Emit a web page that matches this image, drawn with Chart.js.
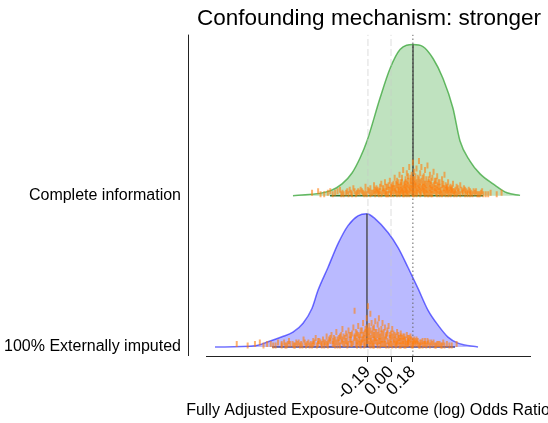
<!DOCTYPE html>
<html>
<head>
<meta charset="utf-8">
<script src="https://cdn.jsdelivr.net/npm/chart.js@4.4.1/dist/chart.umd.min.js"></script>
<style>
  html, body { margin: 0; padding: 0; background: #fff; }
</style>
</head>
<body>
<canvas id="chart" width="548" height="423"></canvas>
<script>
const TITLE = 'Confounding mechanism: stronger';
const X_TITLE = 'Fully Adjusted Exposure-Outcome (log) Odds Ratio';
const groupLabels = ['100% Externally imputed', 'Complete information'];
const xTicks = [-0.19, 0.00, 0.18];

// density outline, heights above each group's baseline
const ciCurveX = [-0.807, -0.502, -0.403, -0.321, -0.255, -0.198, -0.091, -0.008, 0.074, 0.181, 0.263, 0.346, 0.428, 0.510, 0.568, 0.650, 0.733, 0.840, 0.955, 1.062];
const ciCurveY = [0, 0.033, 0.079, 0.151, 0.25, 0.362, 0.645, 0.842, 0.967, 1.0, 0.987, 0.908, 0.776, 0.579, 0.362, 0.230, 0.145, 0.079, 0.02, 0.003];
const eiCurveX = [-1.449, -1.119, -1.012, -0.897, -0.807, -0.724, -0.650, -0.601, -0.519, -0.436, -0.354, -0.272, -0.198, -0.132, -0.025, 0.058, 0.140, 0.222, 0.305, 0.387, 0.469, 0.551, 0.716];
const eiCurveY = [0, 0.009, 0.035, 0.068, 0.099, 0.158, 0.257, 0.375, 0.526, 0.684, 0.803, 0.868, 0.882, 0.849, 0.757, 0.658, 0.526, 0.388, 0.243, 0.145, 0.066, 0.026, 0];

const ciMedian = 0.181;
const eiMedian = -0.198;
const ciPeak = 1.0;
const eiPeak = 0.882;
const ciRange = [-0.502, 0.757];
const eiRange = [-0.979, 0.527];

// estimates (x) with their vertical jitter (h) above the baseline
const ciJitter = [
  [-0.65,0.02],[-0.60,0.03],[-0.55,0.01],[-0.50,0.03],[-0.46,0.02],[-0.42,0.04],[-0.39,0.01],[-0.36,0.03],[-0.33,0.02],[-0.31,0.05],
  [-0.29,0.01],[-0.27,0.03],[-0.25,0.04],[-0.23,0.02],[-0.21,0.06],[-0.20,0.01],[-0.18,0.03],[-0.17,0.05],[-0.15,0.02],[-0.14,0.07],
  [-0.12,0.03],[-0.11,0.04],[-0.10,0.01],[-0.09,0.06],[-0.08,0.08],[-0.07,0.02],[-0.06,0.05],[-0.05,0.09],[-0.04,0.03],[-0.03,0.06],
  [-0.02,0.04],[-0.01,0.10],[0.00,0.02],[0.01,0.07],[0.02,0.05],[0.03,0.12],[0.03,0.03],[0.04,0.08],[0.05,0.01],[0.05,0.10],
  [0.06,0.06],[0.07,0.14],[0.07,0.03],[0.08,0.09],[0.09,0.05],[0.09,0.12],[0.10,0.02],[0.10,0.17],[0.11,0.07],[0.12,0.11],
  [0.12,0.04],[0.13,0.15],[0.13,0.08],[0.14,0.02],[0.14,0.13],[0.15,0.06],[0.15,0.19],[0.16,0.10],[0.16,0.03],[0.17,0.14],
  [0.17,0.07],[0.18,0.22],[0.18,0.11],[0.18,0.04],[0.19,0.16],[0.19,0.08],[0.20,0.13],[0.20,0.02],[0.21,0.18],[0.21,0.09],
  [0.22,0.05],[0.22,0.12],[0.23,0.23],[0.23,0.07],[0.24,0.15],[0.24,0.03],[0.25,0.10],[0.25,0.19],[0.26,0.06],[0.27,0.13],
  [0.27,0.02],[0.28,0.17],[0.28,0.08],[0.29,0.11],[0.30,0.04],[0.30,0.20],[0.31,0.09],[0.32,0.14],[0.32,0.05],[0.33,0.07],
  [0.34,0.12],[0.35,0.03],[0.35,0.16],[0.36,0.08],[0.37,0.10],[0.38,0.04],[0.38,0.13],[0.39,0.06],[0.40,0.09],[0.41,0.02],
  [0.42,0.11],[0.43,0.05],[0.44,0.14],[0.45,0.07],[0.46,0.03],[0.47,0.09],[0.48,0.05],[0.49,0.06],[0.50,0.02],[0.51,0.08],
  [0.53,0.04],[0.54,0.06],[0.56,0.03],[0.57,0.07],[0.59,0.02],[0.60,0.05],[0.62,0.03],[0.64,0.04],[0.66,0.02],[0.68,0.03],
  [0.71,0.01],[0.74,0.02],[0.78,0.01],[0.82,0.02],[0.87,0.01],[0.91,0.02],
  [0.00,0.01],[0.06,0.02],[0.11,0.01],[0.16,0.05],[0.19,0.01],[0.24,0.01],[0.29,0.02],[0.33,0.01],[0.37,0.02],[0.42,0.01],
  [-0.02,0.01],[0.08,0.04],[0.13,0.01],[0.21,0.03],[0.26,0.04],[0.31,0.01],[0.36,0.05],[0.44,0.02],[0.47,0.01],[-0.13,0.01],
  [0.04,0.04],[0.12,0.06],[0.20,0.07],[0.27,0.06],[0.34,0.04],[0.40,0.03],
  [-0.40,0.02],[-0.35,0.01],[-0.30,0.03],[-0.26,0.02],[-0.22,0.01],[-0.19,0.04],[-0.16,0.02],[-0.13,0.04],[-0.11,0.02],[-0.09,0.03],
  [-0.07,0.05],[-0.05,0.02],[-0.04,0.06],[-0.03,0.01],[-0.01,0.04],[0.00,0.06],[0.01,0.03],[0.02,0.08],[0.02,0.01],[0.03,0.05],
  [0.04,0.02],[0.05,0.07],[0.06,0.04],[0.06,0.09],[0.07,0.01],[0.07,0.06],[0.08,0.02],[0.08,0.07],[0.09,0.03],[0.09,0.09],
  [0.10,0.05],[0.10,0.01],[0.11,0.08],[0.11,0.04],[0.12,0.02],[0.12,0.09],[0.13,0.05],[0.13,0.03],[0.14,0.07],[0.14,0.10],
  [0.15,0.01],[0.15,0.04],[0.16,0.08],[0.16,0.12],[0.17,0.02],[0.17,0.05],[0.17,0.10],[0.18,0.07],[0.18,0.01],[0.19,0.04],
  [0.19,0.11],[0.20,0.06],[0.20,0.09],[0.21,0.01],[0.21,0.05],[0.22,0.08],[0.22,0.02],[0.23,0.04],[0.23,0.11],[0.24,0.06],
  [0.24,0.09],[0.25,0.02],[0.25,0.05],[0.26,0.08],[0.26,0.12],[0.27,0.03],[0.27,0.09],[0.28,0.05],[0.28,0.01],[0.29,0.07],
  [0.29,0.04],[0.30,0.08],[0.30,0.01],[0.31,0.05],[0.31,0.11],[0.32,0.02],[0.32,0.08],[0.33,0.04],[0.33,0.10],[0.34,0.06],
  [0.34,0.01],[0.35,0.07],[0.36,0.03],[0.36,0.10],[0.37,0.05],[0.38,0.01],[0.38,0.07],[0.39,0.03],[0.40,0.06],[0.40,0.01],
  [0.41,0.04],[0.42,0.07],[0.43,0.02],[0.44,0.05],[0.45,0.01],[0.45,0.04],[0.46,0.06],[0.48,0.02],[0.49,0.04],[0.50,0.05],
  [0.52,0.01],[0.52,0.03],[0.55,0.02],[0.58,0.04],[0.61,0.01],[0.63,0.02],[0.65,0.01],[0.69,0.02],[0.72,0.01],[0.76,0.01],
  [-0.58,0.01],[-0.52,0.02],[-0.48,0.01],[-0.44,0.03],[-0.41,0.01],[-0.37,0.02],[-0.34,0.04],[-0.32,0.01],[-0.28,0.02],[-0.24,0.03],
  [-0.21,0.02],[-0.17,0.01],[-0.14,0.03],[-0.12,0.05],[-0.10,0.03],[-0.08,0.01],[-0.06,0.03],[-0.04,0.01],[-0.02,0.07],[0.01,0.05],
  [0.47,0.04],[0.49,0.01],[0.51,0.03],[0.53,0.02],[0.55,0.05],[0.57,0.01],[0.59,0.03],[0.61,0.04],[0.63,0.01],[0.65,0.03],
  [0.67,0.01],[0.70,0.03],[0.73,0.01],[0.75,0.03],[0.80,0.01],[0.43,0.08],[0.39,0.09],[0.46,0.05],[0.50,0.04],[0.54,0.01]
];
const eiJitter = [
  [-1.27,0.02],[-1.18,0.01],[-1.08,0.03],[-1.02,0.02],[-0.97,0.01],[-0.93,0.03],[-0.90,0.02],[-0.87,0.01],[-0.84,0.04],[-0.81,0.02],
  [-0.79,0.01],[-0.76,0.03],[-0.74,0.02],[-0.72,0.05],[-0.70,0.01],[-0.68,0.03],[-0.66,0.02],[-0.64,0.04],[-0.62,0.06],[-0.60,0.02],
  [-0.58,0.03],[-0.56,0.05],[-0.55,0.01],[-0.53,0.07],[-0.52,0.03],[-0.50,0.04],[-0.49,0.08],[-0.47,0.02],[-0.46,0.05],[-0.45,0.10],
  [-0.43,0.03],[-0.42,0.07],[-0.41,0.04],[-0.40,0.12],[-0.39,0.02],[-0.38,0.06],[-0.37,0.09],[-0.36,0.03],[-0.35,0.11],[-0.34,0.05],
  [-0.33,0.08],[-0.32,0.02],[-0.31,0.13],[-0.30,0.24],[-0.30,0.06],[-0.29,0.10],[-0.28,0.04],[-0.27,0.14],[-0.26,0.07],[-0.26,0.02],
  [-0.25,0.11],[-0.24,0.05],[-0.23,0.16],[-0.23,0.08],[-0.22,0.03],[-0.21,0.12],[-0.21,0.06],[-0.20,0.19],[-0.20,0.09],[-0.19,0.27],
  [-0.19,0.04],[-0.18,0.14],[-0.18,0.07],[-0.17,0.22],[-0.17,0.11],[-0.16,0.02],[-0.16,0.16],[-0.15,0.08],[-0.14,0.13],[-0.14,0.05],
  [-0.13,0.17],[-0.12,0.10],[-0.12,0.03],[-0.11,0.15],[-0.10,0.07],[-0.10,0.19],[-0.09,0.04],[-0.08,0.12],[-0.08,0.09],[-0.07,0.16],
  [-0.06,0.06],[-0.06,0.02],[-0.05,0.13],[-0.04,0.08],[-0.03,0.11],[-0.03,0.04],[-0.02,0.14],[-0.01,0.06],[0.00,0.09],[0.00,0.02],
  [0.01,0.12],[0.02,0.05],[0.03,0.08],[0.04,0.03],[0.05,0.10],[0.06,0.06],[0.07,0.04],[0.08,0.09],[0.09,0.02],[0.10,0.07],
  [0.11,0.05],[0.12,0.03],[0.13,0.08],[0.14,0.04],[0.15,0.06],[0.16,0.02],[0.17,0.05],[0.19,0.03],[0.20,0.04],[0.22,0.02],
  [0.24,0.03],[0.26,0.01],[0.28,0.04],[0.30,0.02],[0.33,0.03],[0.36,0.01],[0.39,0.02],[0.42,0.01],[0.46,0.02],[0.50,0.01],[0.54,0.02],
  [-0.44,0.01],[-0.36,0.01],[-0.28,0.01],[-0.22,0.01],[-0.15,0.01],[-0.09,0.01],[-0.02,0.01],[0.04,0.01],[0.11,0.01],[0.18,0.01],
  [-0.33,0.02],[-0.25,0.03],[-0.17,0.04],[-0.11,0.03],[-0.05,0.02],[0.02,0.03],[0.08,0.01],[0.14,0.02],[-0.40,0.03],[-0.13,0.06],
  [-0.07,0.05],[0.05,0.04],
  [-0.90,0.01],[-0.85,0.02],[-0.80,0.01],[-0.77,0.02],[-0.73,0.01],[-0.69,0.02],[-0.65,0.01],[-0.63,0.03],[-0.61,0.01],[-0.59,0.04],
  [-0.57,0.02],[-0.54,0.03],[-0.52,0.01],[-0.51,0.05],[-0.48,0.02],[-0.47,0.06],[-0.45,0.03],[-0.44,0.05],[-0.42,0.01],[-0.41,0.08],
  [-0.40,0.05],[-0.39,0.07],[-0.38,0.02],[-0.37,0.04],[-0.36,0.07],[-0.35,0.02],[-0.34,0.08],[-0.33,0.05],[-0.32,0.09],[-0.31,0.03],
  [-0.30,0.07],[-0.29,0.02],[-0.29,0.06],[-0.28,0.09],[-0.27,0.03],[-0.27,0.08],[-0.26,0.05],[-0.25,0.01],[-0.25,0.08],[-0.24,0.03],
  [-0.24,0.11],[-0.23,0.05],[-0.22,0.09],[-0.22,0.06],[-0.21,0.02],[-0.21,0.10],[-0.20,0.04],[-0.20,0.13],[-0.19,0.07],[-0.19,0.11],
  [-0.18,0.02],[-0.18,0.10],[-0.17,0.06],[-0.17,0.01],[-0.16,0.09],[-0.16,0.05],[-0.15,0.12],[-0.15,0.03],[-0.14,0.08],[-0.14,0.01],
  [-0.13,0.04],[-0.13,0.10],[-0.12,0.06],[-0.11,0.01],[-0.11,0.08],[-0.10,0.04],[-0.10,0.11],[-0.09,0.07],[-0.08,0.02],[-0.08,0.05],
  [-0.07,0.09],[-0.07,0.02],[-0.06,0.10],[-0.05,0.05],[-0.04,0.01],[-0.04,0.07],[-0.03,0.09],[-0.02,0.03],[-0.01,0.08],[-0.01,0.02],
  [0.00,0.05],[0.01,0.01],[0.01,0.07],[0.02,0.09],[0.03,0.02],[0.03,0.05],[0.04,0.07],[0.05,0.02],[0.06,0.08],[0.07,0.01],
  [0.07,0.06],[0.08,0.04],[0.09,0.06],[0.10,0.02],[0.11,0.07],[0.12,0.05],[0.13,0.02],[0.14,0.06],[0.15,0.03],[0.16,0.05],
  [0.17,0.01],[0.18,0.04],[0.20,0.02],[0.21,0.05],[0.23,0.01],[0.25,0.03],[0.27,0.02],[0.29,0.01],[0.31,0.03],[0.34,0.02],
  [0.37,0.01],[0.40,0.02],[0.44,0.01],
  [-1.12,0.02],[-1.05,0.01],[-0.99,0.02],[-0.95,0.01],[-0.88,0.03],[-0.86,0.01],[-0.83,0.02],[-0.78,0.03],[-0.75,0.01],[-0.71,0.03],
  [-0.67,0.01],[-0.64,0.02],[-0.60,0.04],[-0.57,0.01],[-0.55,0.03],[-0.53,0.02],[-0.50,0.06],[-0.48,0.04],[-0.46,0.01],[-0.43,0.06],
  [0.06,0.03],[0.08,0.07],[0.10,0.04],[0.12,0.01],[0.14,0.03],[0.16,0.07],[0.18,0.02],[0.19,0.05],[0.21,0.03],[0.22,0.04],
  [0.24,0.01],[0.26,0.04],[0.28,0.02],[0.30,0.04],[0.32,0.01],[0.35,0.03],[0.38,0.02],[0.41,0.01],[0.43,0.03],[0.48,0.01]
];

const Y_MIN = -0.059, Y_MAX = 2.066;
const FONT = '"Liberation Sans", Arial, sans-serif';

function curve(xs, ys, base) {
  return xs.map((x, i) => ({ x: x, y: base + ys[i] }));
}
function jitter(pairs, base) {
  return pairs.map(p => ({ x: p[0], y: base + p[1] }));
}
function vline(x, y0, y1) {
  return [{ x: x, y: y0 }, { x: x, y: y1 }];
}

// offset left spine, title and x-axis title
const frame = {
  id: 'frame',
  afterDraw(chart) {
    const { ctx, chartArea } = chart;
    const cx = (chartArea.left + chartArea.right) / 2;
    ctx.save();
    ctx.strokeStyle = '#222';
    ctx.lineWidth = 1;
    ctx.beginPath();
    ctx.moveTo(188.5, chartArea.top);
    ctx.lineTo(188.5, chartArea.bottom);
    ctx.stroke();
    ctx.fillStyle = '#000';
    ctx.textAlign = 'center';
    ctx.textBaseline = 'middle';
    ctx.font = '22.5px ' + FONT;
    ctx.fillText(TITLE, cx + 1, 19);
    ctx.font = '16px ' + FONT;
    ctx.fillText(X_TITLE, cx, 411);
    ctx.restore();
  }
};

const lineBase = { type: 'line', pointRadius: 0, fill: false, tension: 0 };
const rugStyle = { pointStyle: 'line', rotation: 90, pointRadius: 3, borderColor: 'rgba(255,127,14,0.6)', borderWidth: 2, order: 1 };

new Chart(document.getElementById('chart'), {
  type: 'scatter',
  data: {
    datasets: [
      // jittered estimates
      { ...rugStyle, data: jitter(ciJitter, 1) },
      { ...rugStyle, data: jitter(eiJitter, 0) },
      // medians
      { ...lineBase, data: vline(ciMedian, 1, 1 + ciPeak), borderColor: '#333', borderWidth: 1.2, order: 2 },
      { ...lineBase, data: vline(eiMedian, 0, eiPeak), borderColor: '#333', borderWidth: 1.2, order: 2 },
      // reference lines
      { ...lineBase, data: vline(xTicks[2], Y_MIN, Y_MAX), borderColor: '#666', borderWidth: 1, borderDash: [1.5, 2.5], order: 3 },
      { ...lineBase, data: vline(xTicks[0], Y_MIN, Y_MAX), borderColor: 'rgba(200,200,200,0.6)', borderWidth: 1, borderDash: [7, 3], order: 3 },
      { ...lineBase, data: vline(xTicks[1], Y_MIN, Y_MAX), borderColor: 'rgba(200,200,200,0.6)', borderWidth: 1, borderDash: [7, 3], order: 3 },
      // interval lines on the baselines
      { ...lineBase, data: [{ x: ciRange[0], y: 1 }, { x: ciRange[1], y: 1 }], borderColor: 'rgba(30,100,30,0.9)', borderWidth: 1.5, order: 4 },
      { ...lineBase, data: [{ x: eiRange[0], y: 0 }, { x: eiRange[1], y: 0 }], borderColor: 'rgba(50,50,140,0.9)', borderWidth: 1.5, order: 4 },
      // densities
      { ...lineBase, data: curve(ciCurveX, ciCurveY, 1), cubicInterpolationMode: 'monotone',
        borderColor: 'rgba(44,160,44,0.7)', backgroundColor: 'rgba(44,160,44,0.3)', borderWidth: 1.5,
        fill: { value: 1 }, order: 5 },
      { ...lineBase, data: curve(eiCurveX, eiCurveY, 0), cubicInterpolationMode: 'monotone',
        borderColor: 'rgba(0,0,255,0.55)', backgroundColor: 'rgba(0,0,255,0.27)', borderWidth: 1.5,
        fill: { value: 0 }, order: 5 }
    ]
  },
  options: {
    responsive: false,
    animation: false,
    devicePixelRatio: 1,
    layout: { padding: { top: 33, right: 18, left: 0, bottom: 0 } },
    plugins: {
      legend: { display: false },
      tooltip: { enabled: false },
      title: { display: false }
    },
    scales: {
      x: {
        type: 'linear',
        min: -1.523,
        max: 1.144,
        afterBuildTicks: (scale) => { scale.ticks = xTicks.map(v => ({ value: v })); },
        afterFit: (scale) => { scale.height = 67; },
        border: { display: true, color: '#222', width: 1 },
        grid: { drawOnChartArea: false, drawTicks: true, tickLength: 6, color: '#222' },
        ticks: {
          autoSkip: false,
          minRotation: 45,
          maxRotation: 45,
          padding: 0,
          color: '#000',
          font: { family: FONT, size: 17 },
          callback: (v) => Number(v).toFixed(2)
        }
      },
      y: {
        type: 'linear',
        min: Y_MIN,
        max: Y_MAX,
        afterBuildTicks: (scale) => { scale.ticks = [{ value: 0 }, { value: 1 }]; },
        afterFit: (scale) => { scale.width = 206; },
        border: { display: false },
        grid: { display: false, drawTicks: false },
        ticks: {
          padding: 25,
          color: '#000',
          font: { family: FONT, size: 16 },
          callback: (v) => groupLabels[v]
        }
      }
    }
  },
  plugins: [frame]
});
</script>
</body>
</html>
